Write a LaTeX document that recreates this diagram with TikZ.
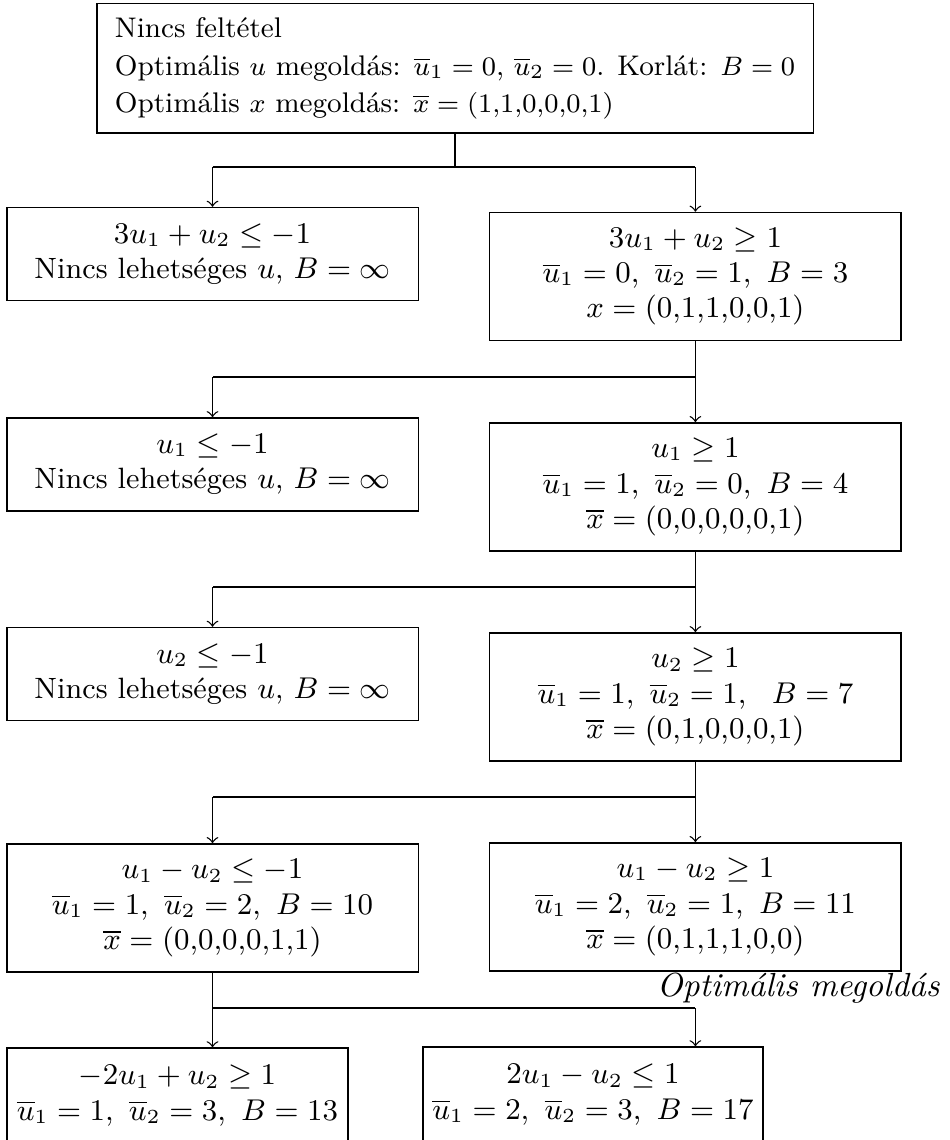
\documentclass[tikz,border=0pt]{standalone}
\usepackage{amsmath}
\usepackage{tikz}

\begin{document}
\begin{tikzpicture}[font=\fontsize{8.8}{10.6}\selectfont,
		box/.style={draw, inner sep=0pt, align=center},
		colbox/.style={box, minimum width=4.33cm},
		twoline/.style={colbox, minimum height=0.98cm},
		threeline/.style={colbox, minimum height=1.35cm}]
	\useasboundingbox (0, 0) rectangle (10, 12);
	% root of the tree
	\node [draw, inner sep=0pt, minimum width=7.54cm, minimum height=1.36cm, align=left, font=\fontsize{8.5}{11.2}\selectfont] (top) at (4.79, 11.28) {Nincs feltétel\\ Optimális $u$ megoldás: $\overline{u}_1=0$, $\overline{u}_2=0$. Korlát: $B=0$\\ Optimális $x$ megoldás: $\overline{x}=(1{,}1{,}0{,}0{,}0{,}1)$};
	% left column
	\node [twoline] (l1) at (2.237, 9.326) {$3u_1+u_2\leq -1$\\ Nincs lehetséges $u$, $B=\infty$};
	\node [twoline] (l2) at (2.237, 7.111) {$u_1\leq -1$\\ Nincs lehetséges $u$, $B=\infty$};
	\node [twoline] (l3) at (2.237, 4.905) {$u_2\leq -1$\\ Nincs lehetséges $u$, $B=\infty$};
	\node [threeline] (l4) at (2.237, 2.442) {$u_1-u_2\leq -1$\\ $\overline{u}_1=1,\ \overline{u}_2=2,\ B=10$\\ $\overline{x}=(0{,}0{,}0{,}0{,}1{,}1)$};
	% right column
	\node [threeline] (r1) at (7.32, 9.089) {$3u_1+u_2\geq 1$\\ $\overline{u}_1=0,\ \overline{u}_2=1,\ B=3$\\ $x=(0{,}1{,}1{,}0{,}0{,}1)$};
	\node [threeline] (r2) at (7.32, 6.874) {$u_1\geq 1$\\ $\overline{u}_1=1,\ \overline{u}_2=0,\ B=4$\\ $\overline{x}=(0{,}0{,}0{,}0{,}0{,}1)$};
	\node [threeline] (r3) at (7.32, 4.663) {$u_2\geq 1$\\ $\overline{u}_1=1,\ \overline{u}_2=1,\ \ B=7$\\ $\overline{x}=(0{,}1{,}0{,}0{,}0{,}1)$};
	\node [threeline] (r4) at (7.32, 2.453) {$u_1-u_2\geq 1$\\ $\overline{u}_1=2,\ \overline{u}_2=1,\ B=11$\\ $\overline{x}=(0{,}1{,}1{,}1{,}0{,}0)$};
	\node [anchor=east, inner sep=0pt, font=\fontsize{10}{12}\selectfont] (opt) at (9.9, 1.6) {\textit{Optimális megoldás}};
	% last branching
	\node [box, minimum width=3.59cm, minimum height=1cm] (bl) at (1.868, 0.468) {$-2u_1+u_2\geq 1$\\ $\overline{u}_1=1,\ \overline{u}_2=3,\ B=13$};
	\node [box, minimum width=3.58cm, minimum height=1cm] (br) at (6.242, 0.479) {$2u_1-u_2\leq 1$\\ $\overline{u}_1=2,\ \overline{u}_2=3,\ B=17$};
	% branch points
	\coordinate (j0) at (4.79, 10.242);
	\coordinate (j1) at (7.32, 8.032);
	\coordinate (j2) at (7.32, 5.821);
	\coordinate (j3) at (7.32, 3.611);
	\coordinate (j4) at (2.237, 1.389);
	\draw (top.south) -- (j0);
	\draw (l1.north |- j0) -- (r1.north |- j0);
	\draw [->] (l1.north |- j0) -- (l1.north);
	\draw [->] (r1.north |- j0) -- (r1.north);
	\draw [->] (r1.south) -- (r2.north);
	\draw (j1) -- (l2.north |- j1);
	\draw [->] (l2.north |- j1) -- (l2.north);
	\draw [->] (r2.south) -- (r3.north);
	\draw (j2) -- (l3.north |- j2);
	\draw [->] (l3.north |- j2) -- (l3.north);
	\draw [->] (r3.south) -- (r4.north);
	\draw (j3) -- (l4.north |- j3);
	\draw [->] (l4.north |- j3) -- (l4.north);
	\draw (l4.south) -- (j4) -- (r4.south |- j4);
	\draw [->] (j4) -- (bl.north -| j4);
	\draw [->] (r4.south |- j4) -- (br.north -| r4.south);
\end{tikzpicture}
\end{document}
